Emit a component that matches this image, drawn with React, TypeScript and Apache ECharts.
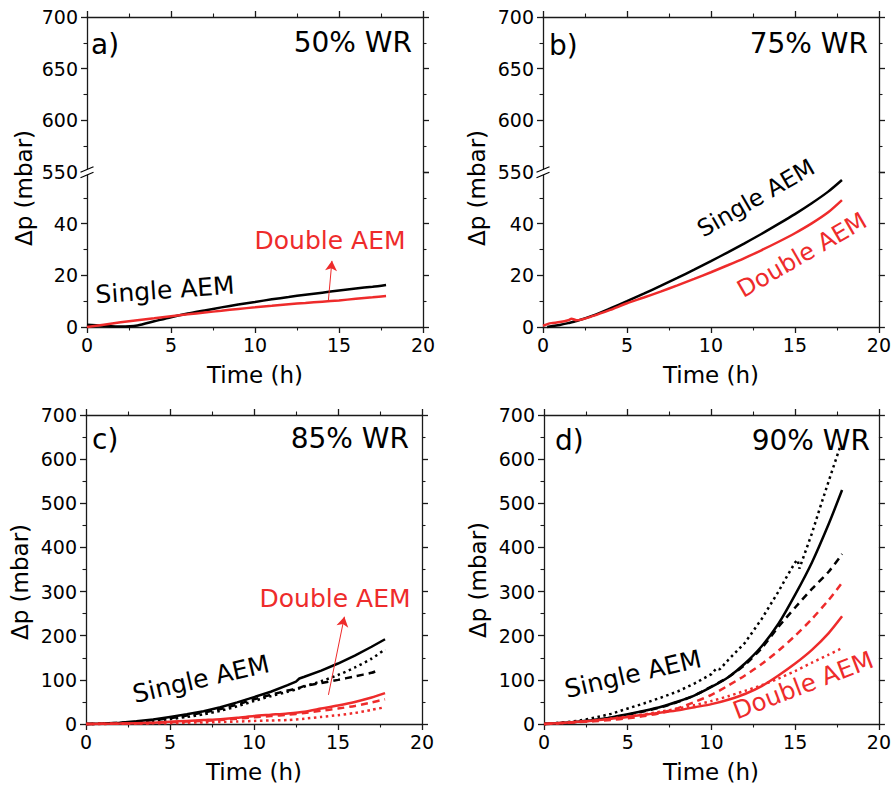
import React, { useEffect, useRef } from "react";
import * as echarts from "echarts";

const FONT = "DejaVu Sans";
const BLACK = "#000000";
const RED = "#ee2b2b";

// Tick values
const X_MIN = 0;
const X_MAX = 20;
const X_STEP = 5;
const LOW_MIN = 0;
const LOW_MAX = 60;
const LOW_STEP = 20;
const HIGH_MIN = 550;
const HIGH_MAX = 700;
const HIGH_STEP = 50;
const FULL_MIN = 0;
const FULL_MAX = 700;
const FULL_STEP = 100;

// Panel a) 50% WR
const aT = [0, 1, 2, 3, 4, 5, 6, 7, 8, 9, 10, 11, 12, 13, 14, 15, 16, 17, 17.8];
const aSingle = [0.9, 0.5, 0.2, 0.6, 2.2, 3.8, 5.2, 6.4, 7.6, 8.7, 9.7, 10.7, 11.6, 12.5, 13.3, 14.1, 14.9, 15.6, 16.3];
const aDouble = [0, 0.9, 1.8, 2.6, 3.4, 4.2, 4.9, 5.6, 6.3, 7.0, 7.6, 8.2, 8.8, 9.3, 9.8, 10.3, 10.9, 11.5, 12.0];
const aArrow = [[14.36, 9.7], [14.58, 25.6]];

// Panel b) 75% WR
const bSingleT = [0.25, 0.5, 1, 1.5, 2, 3, 4, 5, 6, 7, 8, 9, 10, 11, 12, 13, 14, 15, 16, 17, 17.8];
const bSingle = [0, 0.3, 0.8, 1.5, 2.3, 4.5, 7.2, 10, 12.9, 15.9, 19.0, 22.2, 25.5, 28.9, 32.4, 36.0, 39.8, 43.7, 47.9, 52.5, 56.9];
const bDoubleT = [0, 0.3, 0.5, 1, 1.5, 1.7, 2, 3, 4, 5, 6, 7, 8, 9, 10, 11, 12, 13, 14, 15, 16, 17, 17.8];
const bDouble = [0.5, 1.2, 1.5, 1.9, 2.6, 3.2, 2.6, 4.3, 6.6, 9.2, 11.4, 13.7, 16.1, 18.6, 21.2, 23.9, 26.7, 29.7, 32.9, 36.3, 40.1, 44.5, 49.1];

// Panel c) 85% WR
const cT = [0, 1, 2, 3, 4, 5, 6, 7, 8, 9, 10, 11, 12, 12.5, 12.7, 13, 14, 15, 16, 17, 17.8];
const cSingleSolid = [0, 1, 3, 6, 10, 16, 22, 29, 38, 49, 61, 73, 88, 96, 103, 107, 121, 137, 155, 175, 192];
const cSingleDotted = [0, 0.5, 2, 4, 7, 11, 16, 22, 30, 40, 52, 63, 73, 78, 81, 85, 97, 111, 128, 148, 169];
const cDashT = [0, 1, 2, 3, 4, 5, 6, 7, 8, 9, 10, 11, 12, 12.5, 12.7, 13, 14, 15, 16, 17, 17.4];
const cSingleDashed = [0, 1, 2.5, 5, 9, 13, 19, 26, 34, 44, 56, 66, 76, 80, 82, 86, 93, 100, 108, 116, 122];
const cRedT = [0, 2, 4, 5, 6, 7, 8, 9, 10, 11, 12, 13, 14, 15, 16, 17, 17.8];
const cDoubleSolid = [0, 1, 3, 5, 7, 9, 11, 14, 18, 21, 24, 28, 35, 42, 50, 60, 70];
const cDoubleDashed = [0, 1, 2.5, 4, 5.5, 7, 9, 12, 15, 18, 21, 25, 30, 35, 41, 49, 56];
const cDoubleDotted = [0, 0.5, 1.5, 2, 3, 3.5, 4.5, 5.5, 7, 8, 9, 12, 16, 20, 25, 32, 38];
const cArrow = [[14.43, 66], [15.38, 243]];

// Panel d) 90% WR
const dT = [0, 1, 2, 3, 4, 5, 6, 7, 8, 9, 10, 11, 12, 13, 14, 15, 16, 17, 17.8];
const dSingleSolid = [0, 2, 5, 9, 15, 22, 30, 39, 51, 65, 84, 106, 137, 176, 227, 293, 366, 453, 530];
const dSingleDashed = [0, 2, 5, 9, 14, 21, 29, 38, 50, 65, 85, 106, 134, 172, 220, 264, 306, 345, 385];
const dDotT = [0, 1, 2, 3, 4, 5, 6, 7, 8, 9, 10, 10.3, 10.5, 11, 12, 13, 14, 14.5, 15, 15.15, 15.25, 16, 16.5, 17, 17.7];
const dSingleDotted = [0, 3, 7, 14, 23, 35, 47, 60, 74, 92, 113, 126, 124, 145, 184, 238, 300, 334, 366, 372, 352, 432, 492, 550, 630];
const dDoubleSolid = [0, 2, 5, 8, 12, 16, 21, 26, 31, 38, 45, 55, 68, 86, 110, 137, 168, 206, 244];
const dDoubleDashed = [0, 2, 4, 6, 9, 13, 18, 25, 36, 50, 66, 87, 110, 136, 166, 200, 238, 281, 320];
const dDoubleDotted = [0, 2, 5, 8, 12, 17, 22, 28, 35, 43, 52, 63, 75, 88, 103, 120, 139, 157, 172];

const DASH = [7, 5];
const DOT = [2.5, 3.5];

function zip(t: number[], v: number[]) {
  return t.map((x, i) => [x, v[i]]);
}

const axisLineStyle = { color: "#1a1a1a", width: 1.3 };

function xAxis(gridIndex: number, position: string, showLabel: boolean) {
  return {
    type: "value",
    gridIndex,
    position,
    min: X_MIN,
    max: X_MAX,
    interval: X_STEP,
    axisLine: { show: true, onZero: false, lineStyle: axisLineStyle },
    axisTick: { show: true, inside: false, length: 6, lineStyle: axisLineStyle },
    minorTick: { show: true, splitNumber: 2, length: 3.5, lineStyle: { color: "#1a1a1a", width: 1.1 } },
    splitLine: { show: false },
    axisLabel: { show: showLabel, color: "#000", fontSize: 19, fontFamily: FONT, margin: 8 },
  };
}

function yAxis(gridIndex: number, position: string, showLabel: boolean, min: number, max: number, step: number, hideMax = false) {
  return {
    type: "value",
    gridIndex,
    position,
    min,
    max,
    interval: step,
    axisLine: { show: true, onZero: false, lineStyle: axisLineStyle },
    axisTick: { show: true, inside: false, length: 6, lineStyle: axisLineStyle },
    minorTick: { show: true, splitNumber: 2, length: 3.5, lineStyle: { color: "#1a1a1a", width: 1.1 } },
    splitLine: { show: false },
    axisLabel: {
      show: showLabel,
      color: "#000",
      fontSize: 19,
      fontFamily: FONT,
      margin: 9,
      showMaxLabel: !hideMax,
      formatter: (v: number) => (hideMax && v === max ? "" : String(v)),
    },
  };
}

function line(xi: number, yi: number, data: number[][], color: string, dash: any, smooth: number | boolean = 0.25, extra: any = {}) {
  return {
    type: "line",
    xAxisIndex: xi,
    yAxisIndex: yi,
    data,
    showSymbol: false,
    symbol: "none",
    smooth,
    clip: false,
    lineStyle: { color, width: 2.5, type: dash },
    ...extra,
  };
}

function arrow(coords: number[][]) {
  return {
    silent: true,
    symbol: ["none", "arrow"],
    symbolSize: [9, 10],
    lineStyle: { color: RED, width: 1, type: "solid" },
    label: { show: false },
    data: [[{ coord: coords[0] }, { coord: coords[1] }]],
  };
}

function txt(text: string, x: number, y: number, size: number, color: string, align = "center", rotationDeg = 0) {
  return {
    type: "text",
    x,
    y,
    rotation: (rotationDeg * Math.PI) / 180,
    silent: true,
    z: 100,
    style: {
      text,
      fill: color,
      fontSize: size,
      fontFamily: FONT,
      align,
      verticalAlign: "middle",
    },
  };
}

function breakMark(x: number, y: number) {
  return [
    {
      type: "polygon",
      z: 100,
      silent: true,
      shape: { points: [[x - 6, y], [x + 6, y - 5], [x + 6, y + 0.5], [x - 6, y + 5.5]] },
      style: { fill: "#ffffff" },
    },
    {
      type: "line",
      z: 101,
      silent: true,
      shape: { x1: x - 6.5, y1: y + 0.2, x2: x + 6.5, y2: y - 5.2 },
      style: { stroke: "#000", lineWidth: 1.2 },
    },
    {
      type: "line",
      z: 101,
      silent: true,
      shape: { x1: x - 6.5, y1: y + 5.7, x2: x + 6.5, y2: y + 0.3 },
      style: { stroke: "#000", lineWidth: 1.2 },
    },
  ];
}

export default function App() {
  const ref = useRef<HTMLDivElement>(null);

  useEffect(() => {
    if (!ref.current) return;
    const chart = echarts.init(ref.current, undefined, { renderer: "svg" });

    const option: any = {
      animation: false,
      backgroundColor: "#ffffff",
      grid: [
        { left: 87, top: 17, width: 336, height: 155 },
        { left: 87, top: 172, width: 336, height: 155 },
        { left: 543, top: 17, width: 336, height: 155 },
        { left: 543, top: 172, width: 336, height: 155 },
        { left: 86, top: 415, width: 336, height: 309 },
        { left: 544, top: 415, width: 335, height: 309 },
      ],
      xAxis: [
        xAxis(0, "top", false),
        xAxis(1, "bottom", true),
        xAxis(2, "top", false),
        xAxis(3, "bottom", true),
        xAxis(4, "bottom", true),
        xAxis(4, "top", false),
        xAxis(5, "bottom", true),
        xAxis(5, "top", false),
      ],
      yAxis: [
        yAxis(0, "left", true, HIGH_MIN, HIGH_MAX, HIGH_STEP),
        yAxis(0, "right", false, HIGH_MIN, HIGH_MAX, HIGH_STEP),
        yAxis(1, "left", true, LOW_MIN, LOW_MAX, LOW_STEP, true),
        yAxis(1, "right", false, LOW_MIN, LOW_MAX, LOW_STEP, true),
        yAxis(2, "left", true, HIGH_MIN, HIGH_MAX, HIGH_STEP),
        yAxis(2, "right", false, HIGH_MIN, HIGH_MAX, HIGH_STEP),
        yAxis(3, "left", true, LOW_MIN, LOW_MAX, LOW_STEP, true),
        yAxis(3, "right", false, LOW_MIN, LOW_MAX, LOW_STEP, true),
        yAxis(4, "left", true, FULL_MIN, FULL_MAX, FULL_STEP),
        yAxis(4, "right", false, FULL_MIN, FULL_MAX, FULL_STEP),
        yAxis(5, "left", true, FULL_MIN, FULL_MAX, FULL_STEP),
        yAxis(5, "right", false, FULL_MIN, FULL_MAX, FULL_STEP),
      ],
      series: [
        // a
        line(1, 2, zip(aT, aSingle), BLACK, "solid"),
        line(1, 2, zip(aT, aDouble), RED, "solid", 0.25, { markLine: arrow(aArrow) }),
        // b
        line(3, 6, zip(bSingleT, bSingle), BLACK, "solid"),
        line(3, 6, zip(bDoubleT, bDouble), RED, "solid"),
        // c
        line(4, 8, zip(cT, cSingleSolid), BLACK, "solid", false),
        line(4, 8, zip(cT, cSingleDotted), BLACK, DOT),
        line(4, 8, zip(cDashT, cSingleDashed), BLACK, DASH),
        line(4, 8, zip(cRedT, cDoubleSolid), RED, "solid", 0.25, { markLine: arrow(cArrow) }),
        line(4, 8, zip(cRedT, cDoubleDashed), RED, DASH),
        line(4, 8, zip(cRedT, cDoubleDotted), RED, DOT),
        // d
        line(6, 10, zip(dT, dSingleSolid), BLACK, "solid"),
        line(6, 10, zip(dT, dSingleDashed), BLACK, DASH),
        line(6, 10, zip(dDotT, dSingleDotted), BLACK, DOT, false),
        line(6, 10, zip(dT, dDoubleSolid), RED, "solid"),
        line(6, 10, zip(dT, dDoubleDashed), RED, DASH),
        line(6, 10, zip(dT, dDoubleDotted), RED, DOT),
      ],
      graphic: [
        ...breakMark(87, 172),
        ...breakMark(543, 172),
        // y titles
        txt("Δp (mbar)", 24, 188, 23, "#000", "center", 90),
        txt("Δp (mbar)", 477, 188, 23, "#000", "center", 90),
        txt("Δp (mbar)", 20, 582, 23, "#000", "center", 90),
        txt("Δp (mbar)", 478, 580, 23, "#000", "center", 90),
        // x titles
        txt("Time (h)", 255, 375, 23, "#000"),
        txt("Time (h)", 711, 375, 23, "#000"),
        txt("Time (h)", 254, 772, 23, "#000"),
        txt("Time (h)", 711, 772, 23, "#000"),
        // panel letters
        txt("a)", 91, 44, 28, "#000", "left"),
        txt("b)", 549, 45, 28, "#000", "left"),
        txt("c)", 92, 439, 28, "#000", "left"),
        txt("d)", 555, 440, 28, "#000", "left"),
        // WR labels
        txt("50% WR", 412, 42, 28, "#000", "right"),
        txt("75% WR", 868, 43, 28, "#000", "right"),
        txt("85% WR", 409, 438, 28, "#000", "right"),
        txt("90% WR", 870, 440, 28, "#000", "right"),
        // annotations
        txt("Single AEM", 165, 290, 25, BLACK, "center", 4),
        txt("Double AEM", 330, 240, 25, RED, "center", 0),
        txt("Single AEM", 756, 198, 23.5, BLACK, "center", 30),
        txt("Double AEM", 802, 255, 24, RED, "center", 30),
        txt("Single AEM", 201, 679, 25, BLACK, "center", 13),
        txt("Double AEM", 335, 598, 25, RED, "center", 0),
        txt("Single AEM", 633, 674, 25, BLACK, "center", 13),
        txt("Double AEM", 803, 685, 24.5, RED, "center", 21),
      ],
    };

    chart.setOption(option);
    return () => chart.dispose();
  }, []);

  return (
    <div
      ref={ref}
      style={{ position: "absolute", left: 0, top: 0, width: 894, height: 787, background: "#fff" }}
    />
  );
}
